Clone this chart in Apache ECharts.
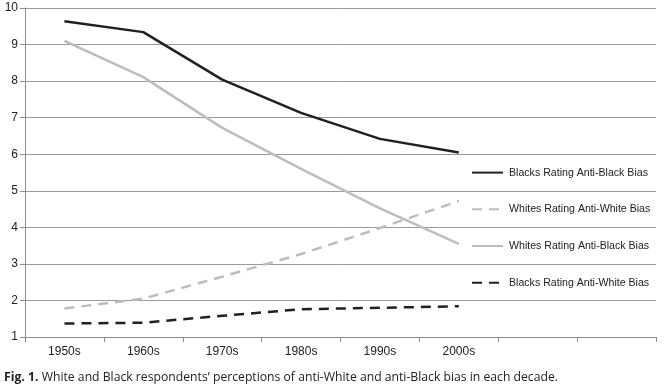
<!DOCTYPE html>
<html>
<head>
<meta charset="utf-8">
<script src="https://cdn.jsdelivr.net/npm/echarts@6/dist/echarts.min.js"></script>
<style>
html,body{margin:0;padding:0;background:#fff;}
#chart{width:664px;height:388px;}
</style>
</head>
<body>
<div id="chart"></div>
<script>
const categories = ['1950s','1960s','1970s','1980s','1990s','2000s','',''];
const blacksAntiBlack = [9.64, 9.34, 8.04, 7.13, 6.42, 6.05];
const whitesAntiWhite = [1.78, 2.05, 2.65, 3.27, 3.98, 4.72];
const whitesAntiBlack = [9.10, 8.11, 6.72, 5.60, 4.52, 3.55];
const blacksAntiWhite = [1.37, 1.39, 1.58, 1.76, 1.80, 1.84];
const yTicks = [1,2,3,4,5,6,7,8,9,10];
const seriesNames = ['Blacks Rating Anti-Black Bias','Whites Rating Anti-White Bias','Whites Rating Anti-Black Bias','Blacks Rating Anti-White Bias'];

const BLACK = '#231f20', GRAY = '#bdbdbd';
const chart = echarts.init(document.getElementById('chart'));
function mk(name, data, color, dashed){
  return {
    name, type:'line', data, symbol:'none', showSymbol:false, smooth:false,
    lineStyle:{color, width:2.5, type: dashed ? [10,7] : 'solid'},
    itemStyle:{color}, animation:false
  };
}
chart.setOption({
  animation:false,
  grid:{left:25, right:8, top:8, bottom:51, containLabel:false},
  legend:{
    orient:'vertical', left:466, top:162,
    itemWidth:31, itemHeight:14, itemGap:25.5,
    itemStyle:{opacity:0},
    textStyle:{fontFamily:'Liberation Sans, Arial', fontSize:10.6, color:'#222', padding:[0,0,0,1]},
    data: seriesNames
  },
  xAxis:{
    type:'category', data:categories, boundaryGap:true,
    axisLine:{lineStyle:{color:'#8c8c8c', width:1}},
    axisTick:{show:true, length:5, lineStyle:{color:'#8c8c8c'}},
    axisLabel:{fontFamily:'Liberation Sans, Arial', fontSize:12, color:'#222', margin:9}
  },
  yAxis:{
    type:'value', min:1, max:10, interval:1,
    axisLine:{show:true, lineStyle:{color:'#8c8c8c', width:1}},
    axisTick:{show:true, length:5, lineStyle:{color:'#8c8c8c'}},
    splitLine:{lineStyle:{color:'#9a9a9a', width:1}},
    axisLabel:{fontFamily:'Liberation Sans, Arial', fontSize:12, color:'#222', margin:7,
      formatter: v => yTicks.includes(v) ? String(v) : ''}
  },
  graphic:[{
    type:'text', left:4, top:372,
    style:{
      rich:{
        b:{fontFamily:'Open Sans', fontWeight:'bold', fontSize:12.2, fill:'#222'},
        n:{fontFamily:'Open Sans', fontSize:12.2, fill:'#222'}
      },
      text:'{b|Fig. 1.} {n|White and Black respondents’ perceptions of anti-White and anti-Black bias in each decade.}'
    }
  }],
  series:[
    mk(seriesNames[0], blacksAntiBlack, BLACK, false),
    mk(seriesNames[1], whitesAntiWhite, GRAY, true),
    mk(seriesNames[2], whitesAntiBlack, GRAY, false),
    mk(seriesNames[3], blacksAntiWhite, BLACK, true)
  ]
});
</script>
</body>
</html>
